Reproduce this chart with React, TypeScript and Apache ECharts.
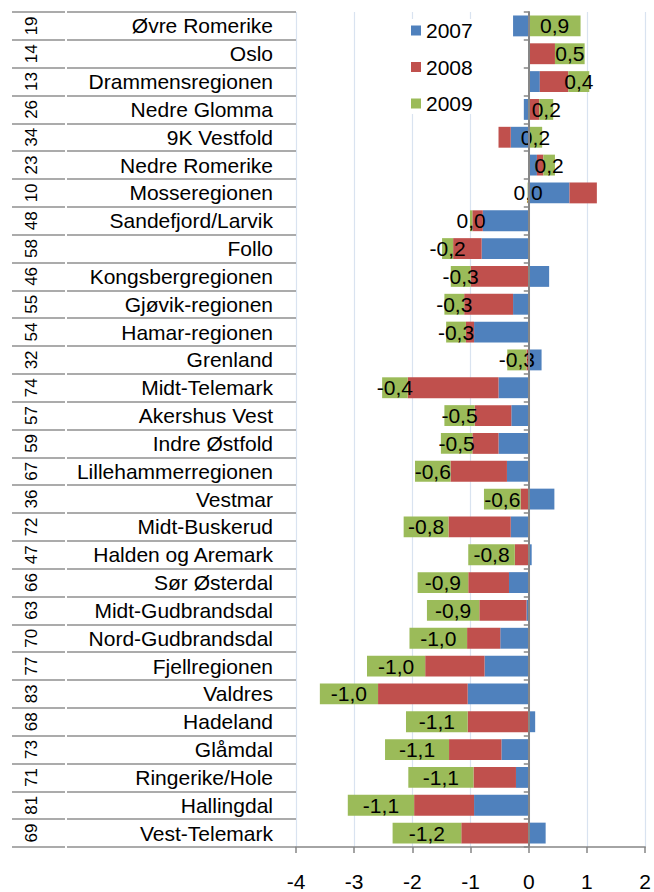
import React, { useEffect, useRef } from "react";
import * as echarts from "echarts";

const regions = [
  "Øvre Romerike", "Oslo", "Drammensregionen", "Nedre Glomma", "9K Vestfold",
  "Nedre Romerike", "Mosseregionen", "Sandefjord/Larvik", "Follo", "Kongsbergregionen",
  "Gjøvik-regionen", "Hamar-regionen", "Grenland", "Midt-Telemark", "Akershus Vest",
  "Indre Østfold", "Lillehammerregionen", "Vestmar", "Midt-Buskerud", "Halden og Aremark",
  "Sør Østerdal", "Midt-Gudbrandsdal", "Nord-Gudbrandsdal", "Fjellregionen", "Valdres",
  "Hadeland", "Glåmdal", "Ringerike/Hole", "Hallingdal", "Vest-Telemark",
];

const ranks = [
  "19", "14", "13", "26", "34", "23", "10", "48", "58", "46",
  "55", "54", "32", "74", "57", "59", "67", "36", "72", "47",
  "66", "63", "70", "77", "83", "68", "73", "71", "81", "69",
];

const values2007 = [
  -0.27, 0.02, 0.19, -0.085, -0.31, 0.14, 0.7, -0.79, -0.81, 0.35,
  -0.27, -0.94, 0.22, -0.52, -0.3, -0.52, -0.375, 0.44, -0.31, 0.05,
  -0.34, -0.04, -0.49, -0.76, -1.05, 0.11, -0.47, -0.22, -0.94, 0.29,
];

const values2008 = [
  0, 0.43, 0.49, 0.18, -0.21, 0.11, 0.47, -0.18, -0.49, -1.0,
  -0.84, -0.14, -0.04, -1.56, -0.63, -0.45, -0.97, -0.14, -1.07, -0.24,
  -0.7, -0.81, -0.57, -1.02, -1.54, -1.05, -0.9, -0.73, -1.03, -1.16,
];

const values2009 = [
  0.89, 0.51, 0.36, 0.24, 0.23, 0.2, -0.02, -0.04, -0.19, -0.34,
  -0.34, -0.34, -0.33, -0.44, -0.52, -0.54, -0.61, -0.63, -0.77, -0.8,
  -0.87, -0.9, -0.99, -1.0, -1.0, -1.06, -1.1, -1.12, -1.14, -1.18,
];

const seriesNames = ["2007", "2008", "2009"];
const xMin = -4;
const xMax = 2;

const FONT = "'Liberation Sans', Arial, sans-serif";

function fmt(v: number): string {
  const r = Math.round(v * 10) / 10;
  let s = r.toFixed(1);
  if (s === "-0.0") s = "0.0";
  return s.replace(".", ",");
}

export default function App() {
  const ref = useRef<HTMLDivElement>(null);

  useEffect(() => {
    if (!ref.current) return;
    const chart = echarts.init(ref.current, undefined, { renderer: "svg" });
    const axisGray = "#868686";
    const sepGray = "#8f8f8f";
    const option: any = {
      animation: false,
      backgroundColor: "#ffffff",
      textStyle: { fontFamily: FONT },
      grid: { left: 296, right: 6, top: 12, bottom: 44, containLabel: false },
      legend: {
        data: seriesNames,
        orient: "vertical",
        left: 405,
        top: 19,
        itemWidth: 10,
        itemHeight: 10,
        itemGap: 15.5,
        icon: "rect",
        backgroundColor: "#ffffff",
        padding: [1, 4, 0, 6],
        textStyle: { fontSize: 21, lineHeight: 21, color: "#000", fontFamily: FONT },
      },
      xAxis: {
        type: "value",
        min: xMin,
        max: xMax,
        interval: 1,
        axisLine: { show: true, onZero: false, lineStyle: { color: axisGray, width: 1.5 } },
        axisTick: { show: true, length: 6, lineStyle: { color: axisGray, width: 1.5 } },
        axisLabel: { fontSize: 21, color: "#000", margin: 24, fontFamily: FONT },
        splitLine: { show: true, lineStyle: { color: "#D9E3F0", width: 1.2 } },
      },
      yAxis: [
        {
          type: "category",
          data: regions,
          inverse: true,
          position: "left",
          z: 5,
          axisLine: { show: true, onZero: true, lineStyle: { color: axisGray, width: 2 } },
          axisTick: { show: true, length: 5, lineStyle: { color: axisGray, width: 1.5 } },
          axisLabel: { show: false },
          splitLine: { show: false },
        },
        {
          type: "category",
          data: regions,
          inverse: true,
          position: "left",
          offset: 0,
          axisLine: { show: false, onZero: false },
          axisTick: { show: true, length: 229, lineStyle: { color: sepGray, width: 1.5 } },
          axisLabel: { show: true, fontSize: 21, color: "#000", margin: 23, fontFamily: FONT },
          splitLine: { show: false },
        },
        {
          type: "category",
          data: ranks,
          inverse: true,
          position: "left",
          offset: 231,
          axisLine: { show: false, onZero: false },
          axisTick: { show: true, length: 53, lineStyle: { color: sepGray, width: 1.5 } },
          axisLabel: {
            show: true,
            fontSize: 17,
            lineHeight: 17,
            color: "#000",
            margin: 25,
            rotate: 90,
            fontFamily: FONT,
          },
          splitLine: { show: false },
        },
      ],
      series: [
        {
          name: seriesNames[0],
          type: "bar",
          stack: "total",
          yAxisIndex: 0,
          data: values2007,
          barCategoryGap: "25%",
          itemStyle: { color: "#4F81BD" },
        },
        {
          name: seriesNames[1],
          type: "bar",
          stack: "total",
          yAxisIndex: 0,
          data: values2008,
          barCategoryGap: "25%",
          itemStyle: { color: "#C0504D" },
        },
        {
          name: seriesNames[2],
          type: "bar",
          stack: "total",
          yAxisIndex: 0,
          data: values2009,
          barCategoryGap: "25%",
          itemStyle: { color: "#9BBB59" },
          label: {
            show: true,
            position: "inside",
            color: "#000",
            fontSize: 21,
            fontFamily: FONT,
            formatter: (p: any) => fmt(p.value),
          },
        },
      ],
    };
    chart.setOption(option);
    return () => chart.dispose();
  }, []);

  return (
    <div
      ref={ref}
      style={{ position: "fixed", left: 0, top: 0, width: 654, height: 892 }}
    />
  );
}
